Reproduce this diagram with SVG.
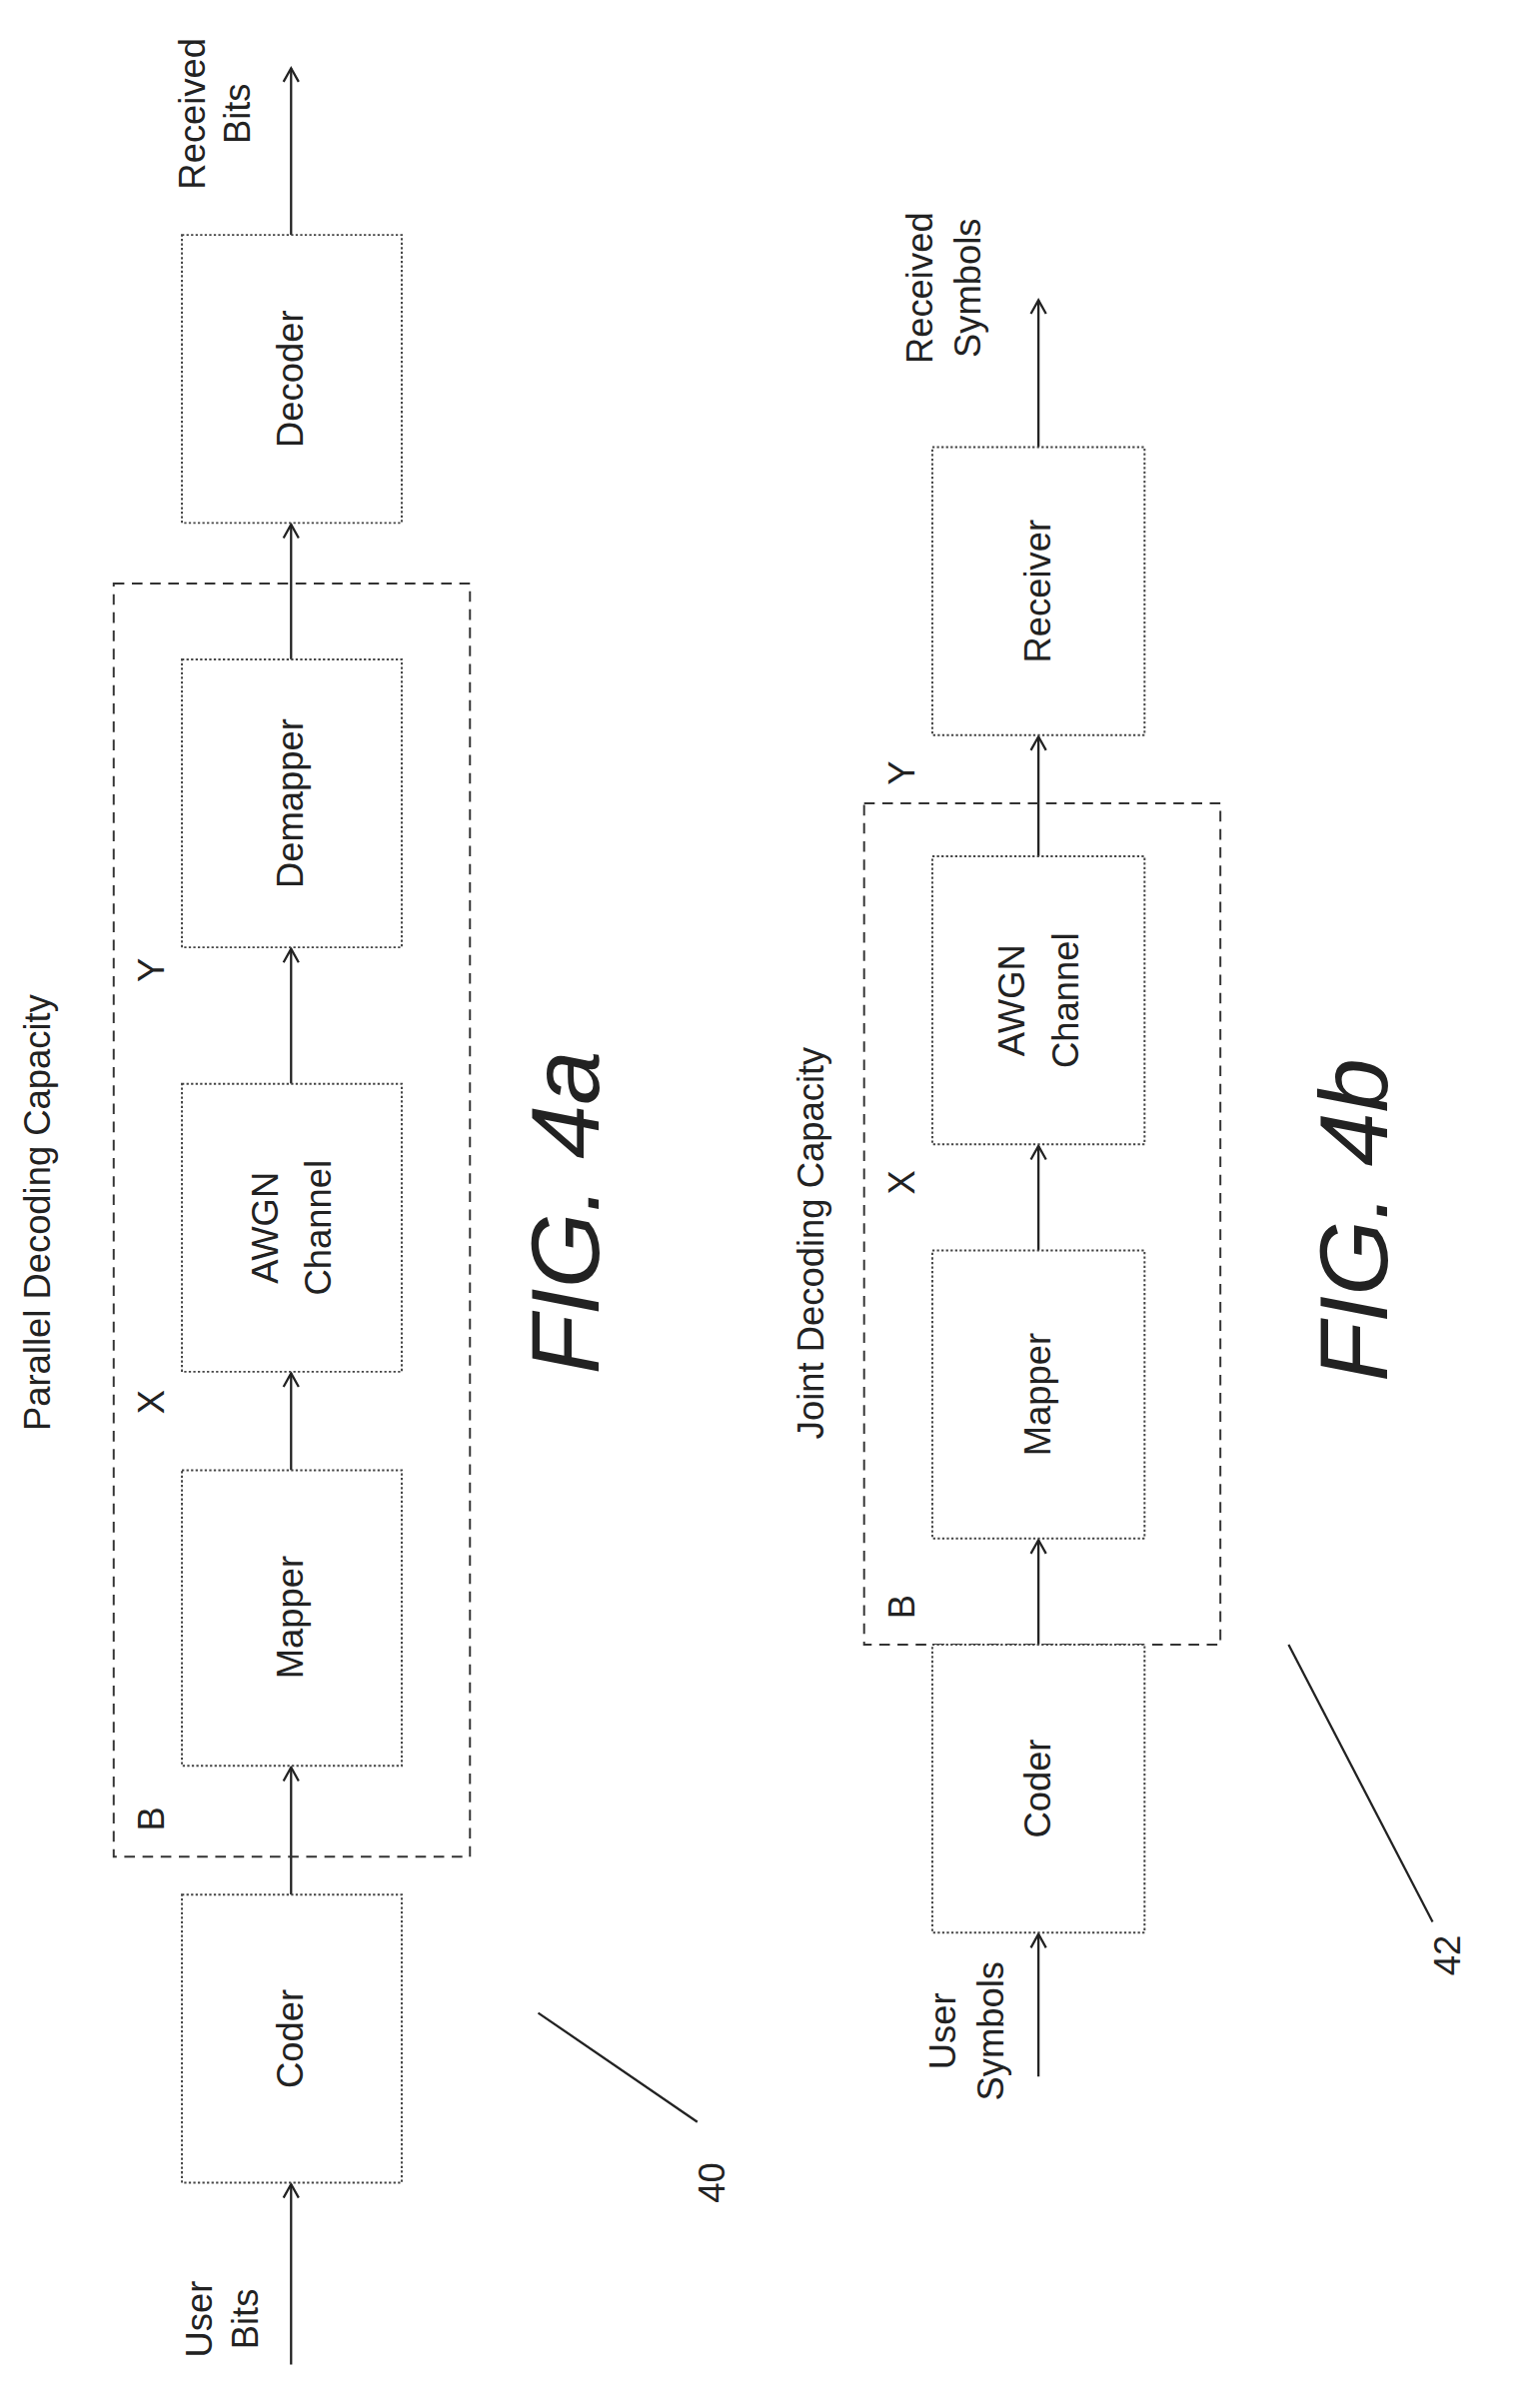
<svg xmlns="http://www.w3.org/2000/svg" width="1517" height="2410" viewBox="0 0 1517 2410">
<defs>
<marker id="ah" markerWidth="12" markerHeight="12" refX="10" refY="6" orient="auto" markerUnits="userSpaceOnUse"><path d="M1,1 L10,6 L1,11" fill="none" stroke="#222" stroke-width="1.5"/></marker>
<style>
.box{fill:#fff;stroke:#444;stroke-width:1.3;stroke-dasharray:1.5 1.5}
.dash{fill:none;stroke:#333;stroke-width:1.3;stroke-dasharray:7 5}
.ln{stroke:#222;stroke-width:1.5;fill:none}
.t{font-family:"Liberation Sans",Arial,sans-serif;font-size:24px;fill:#222;text-anchor:middle}
.fig{font-family:"Liberation Sans",Arial,sans-serif;font-size:64px;font-style:italic;fill:#222;text-anchor:middle}
</style>
</defs>
<rect width="1517" height="2410" fill="#fff"/>
<g transform="scale(1.517)">
<g id="connectors">
<line class="ln" x1="192" y1="1560" x2="192" y2="1441" marker-end="url(#ah)"/>
<line class="ln" x1="192" y1="1250" x2="192" y2="1166" marker-end="url(#ah)"/>
<line class="ln" x1="192" y1="970" x2="192" y2="906" marker-end="url(#ah)"/>
<line class="ln" x1="192" y1="715" x2="192" y2="626" marker-end="url(#ah)"/>
<line class="ln" x1="192" y1="435" x2="192" y2="346" marker-end="url(#ah)"/>
<line class="ln" x1="192" y1="155" x2="192" y2="45" marker-end="url(#ah)"/>
<line class="ln" x1="685" y1="1370" x2="685" y2="1276" marker-end="url(#ah)"/>
<line class="ln" x1="685" y1="1085" x2="685" y2="1016" marker-end="url(#ah)"/>
<line class="ln" x1="685" y1="825" x2="685" y2="756" marker-end="url(#ah)"/>
<line class="ln" x1="685" y1="565" x2="685" y2="486" marker-end="url(#ah)"/>
<line class="ln" x1="685" y1="295" x2="685" y2="198" marker-end="url(#ah)"/>
<line class="ln" x1="355" y1="1328" x2="460" y2="1400"/>
<line class="ln" x1="850" y1="1085" x2="945" y2="1268"/>
</g>
<g id="fig4a">
<rect class="dash" x="75" y="385" width="235" height="840"/>
<g id="coderA"><rect class="box" x="120" y="1250" width="145" height="190"/><text class="t" transform="translate(200,1345) rotate(-90)">Coder</text></g>
<g id="mapperA"><rect class="box" x="120" y="970" width="145" height="195"/><text class="t" transform="translate(200,1067) rotate(-90)">Mapper</text></g>
<g id="awgnA"><rect class="box" x="120" y="715" width="145" height="190"/><text class="t" transform="translate(183,810) rotate(-90)">AWGN</text><text class="t" transform="translate(218,810) rotate(-90)">Channel</text></g>
<g id="demapperA"><rect class="box" x="120" y="435" width="145" height="190"/><text class="t" transform="translate(200,530) rotate(-90)">Demapper</text></g>
<g id="decoderA"><rect class="box" x="120" y="155" width="145" height="190"/><text class="t" transform="translate(200,250) rotate(-90)">Decoder</text></g>
<text class="t" transform="translate(140,1530) rotate(-90)">User</text><text class="t" transform="translate(170,1530) rotate(-90)">Bits</text>
<text class="t" transform="translate(135,75) rotate(-90)">Received</text><text class="t" transform="translate(165,75) rotate(-90)">Bits</text>
<text class="t" transform="translate(33,800) rotate(-90)">Parallel Decoding Capacity</text>
<text class="t" transform="translate(108,925) rotate(-90)">X</text>
<text class="t" transform="translate(108,640) rotate(-90)">Y</text>
<text class="t" transform="translate(108,1200) rotate(-90)">B</text>
<text class="fig" transform="translate(395,800) rotate(-90)">FIG. 4a</text>
<text class="t" transform="translate(478,1440) rotate(-90)">40</text>
</g>
<g id="fig4b">
<rect class="dash" x="570" y="530" width="235" height="555"/>
<g id="coderB"><rect class="box" x="615" y="1085" width="140" height="190"/><text class="t" transform="translate(693,1180) rotate(-90)">Coder</text></g>
<g id="mapperB"><rect class="box" x="615" y="825" width="140" height="190"/><text class="t" transform="translate(693,920) rotate(-90)">Mapper</text></g>
<g id="awgnB"><rect class="box" x="615" y="565" width="140" height="190"/><text class="t" transform="translate(676,660) rotate(-90)">AWGN</text><text class="t" transform="translate(711,660) rotate(-90)">Channel</text></g>
<g id="receiverB"><rect class="box" x="615" y="295" width="140" height="190"/><text class="t" transform="translate(693,390) rotate(-90)">Receiver</text></g>
<text class="t" transform="translate(630,1340) rotate(-90)">User</text><text class="t" transform="translate(662,1340) rotate(-90)">Symbols</text>
<text class="t" transform="translate(615,190) rotate(-90)">Received</text><text class="t" transform="translate(647,190) rotate(-90)">Symbols</text>
<text class="t" transform="translate(543,820) rotate(-90)">Joint Decoding Capacity</text>
<text class="t" transform="translate(603,780) rotate(-90)">X</text>
<text class="t" transform="translate(603,510) rotate(-90)">Y</text>
<text class="t" transform="translate(603,1060) rotate(-90)">B</text>
<text class="fig" transform="translate(915,805) rotate(-90)">FIG. 4b</text>
<text class="t" transform="translate(963,1290) rotate(-90)">42</text>
</g>
</g>
</svg>
